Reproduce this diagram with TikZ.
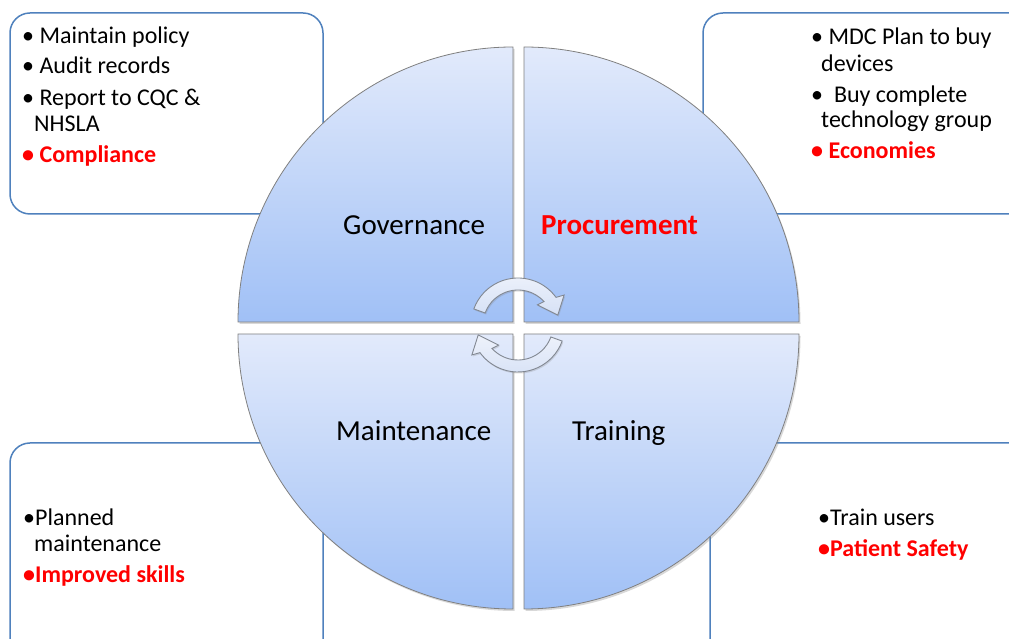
\documentclass[tikz,border=0pt]{standalone}
\usepackage{fontspec}
\setmainfont{Carlito}
\usetikzlibrary{shadows,calc}
\definecolor{boxblue}{RGB}{79,129,189}
\definecolor{qtop}{RGB}{226,234,251}
\definecolor{qbot}{RGB}{160,192,246}
\definecolor{arrtop}{RGB}{238,242,251}
\definecolor{arrbot}{RGB}{214,225,246}
\definecolor{arredge}{RGB}{130,136,146}
\definecolor{redtxt}{RGB}{255,0,0}
\tikzset{
  infobox/.style={draw=boxblue, line width=1.5pt, rounded corners=20pt, fill=white},
  quad/.style={draw=black!50, line width=0.8pt, top color=qtop, bottom color=qbot,
    drop shadow={shadow xshift=1.5pt, shadow yshift=-2pt, opacity=0.3}},
  bul/.style={anchor=base west, inner sep=0pt, font=\fontsize{24}{28}\selectfont},
  bulred/.style={anchor=base west, inner sep=0pt, text=redtxt, font=\fontsize{24}{28}\selectfont\bfseries},
  qlabel/.style={anchor=base west, inner sep=0pt, font=\fontsize{29}{33}\selectfont},
  qlabelred/.style={qlabel, text=redtxt, font=\fontsize{29}{33}\selectfont\bfseries},
  cyc/.style={top color=arrtop, bottom color=arrbot, draw=arredge, line width=0.9pt,
    drop shadow={shadow xshift=1pt, shadow yshift=-1.5pt, opacity=0.25}}
}
\newcommand{\cycarrow}[1]{%
  \path[cyc] ($(#1)+(160:47)$) arc[start angle=160, end angle=36, radius=47]
    -- ($(#1)+(33:55)$) -- ($(#1)+(14:41)$) -- ($(#1)+(46:28)$)
    -- ($(#1)+(42:35)$) arc[start angle=42, end angle=160, radius=35] -- cycle;}
\begin{document}
\begin{tikzpicture}[x=1pt,y=1pt]
\useasboundingbox (0,0) rectangle (1009,639);
\clip (0,0) rectangle (1009,639);
\fill[white] (0,0) rectangle (1009,639);
% corner boxes
\path[infobox] (10,425) rectangle (323,626);
\path[infobox] (703,425) rectangle (1030,626);
\path[infobox] (10,-30) rectangle (323,196);
\path[infobox] (710,-30) rectangle (1030,196);
% quadrants
\path[quad] (513,317) -- ++(0,275) arc[start angle=90, end angle=180, radius=275] -- cycle;
\path[quad] (524,317) -- ++(275,0) arc[start angle=0, end angle=90, radius=275] -- cycle;
\path[quad] (513,305) -- ++(-275,0) arc[start angle=180, end angle=270, radius=275] -- cycle;
\path[quad] (524,305) -- ++(0,-275) arc[start angle=270, end angle=360, radius=275] -- cycle;
% cycle arrows
\coordinate (ct) at (518,314);
\cycarrow{ct}
\begin{scope}[rotate around={180:(518.5,311)}]
\cycarrow{ct}
\end{scope}
% quadrant labels
\node[qlabel] (gov) at (343,404) {Governance};
\node[qlabelred] (proc) at (541,404) {Procurement};
\node[qlabel] (maint) at (336,198) {Maintenance};
\node[qlabel] (train) at (572,198) {Training};
% top-left text
\node[bul] (tl1) at (22,595) {•\ Maintain policy};
\node[bul] (tl2) at (22,565) {•\ Audit records};
\node[bul] (tl3) at (22,533) {•\ Report to CQC \&};
\node[bul] (tl4) at (34,507) {NHSLA};
\node[bulred] (tl5) at (22,476) {•\ Compliance};
% top-right text
\node[bul] (tr1) at (811,594) {•\ MDC Plan to buy};
\node[bul] (tr2) at (821,567) {devices};
\node[bul] (tr3) at (811,536) {•\ \ Buy complete};
\node[bul] (tr4) at (821,511) {technology group};
\node[bulred] (tr5) at (811,480) {•\ Economies};
% bottom-left text
\node[bul] (bl1) at (23,113) {•Planned};
\node[bul] (bl2) at (34,87) {maintenance};
\node[bulred] (bl3) at (23,56) {•Improved skills};
% bottom-right text
\node[bul] (br1) at (818,113) {•Train users};
\node[bulred] (br2) at (818,82) {•Patient Safety};
\end{tikzpicture}
\end{document}
